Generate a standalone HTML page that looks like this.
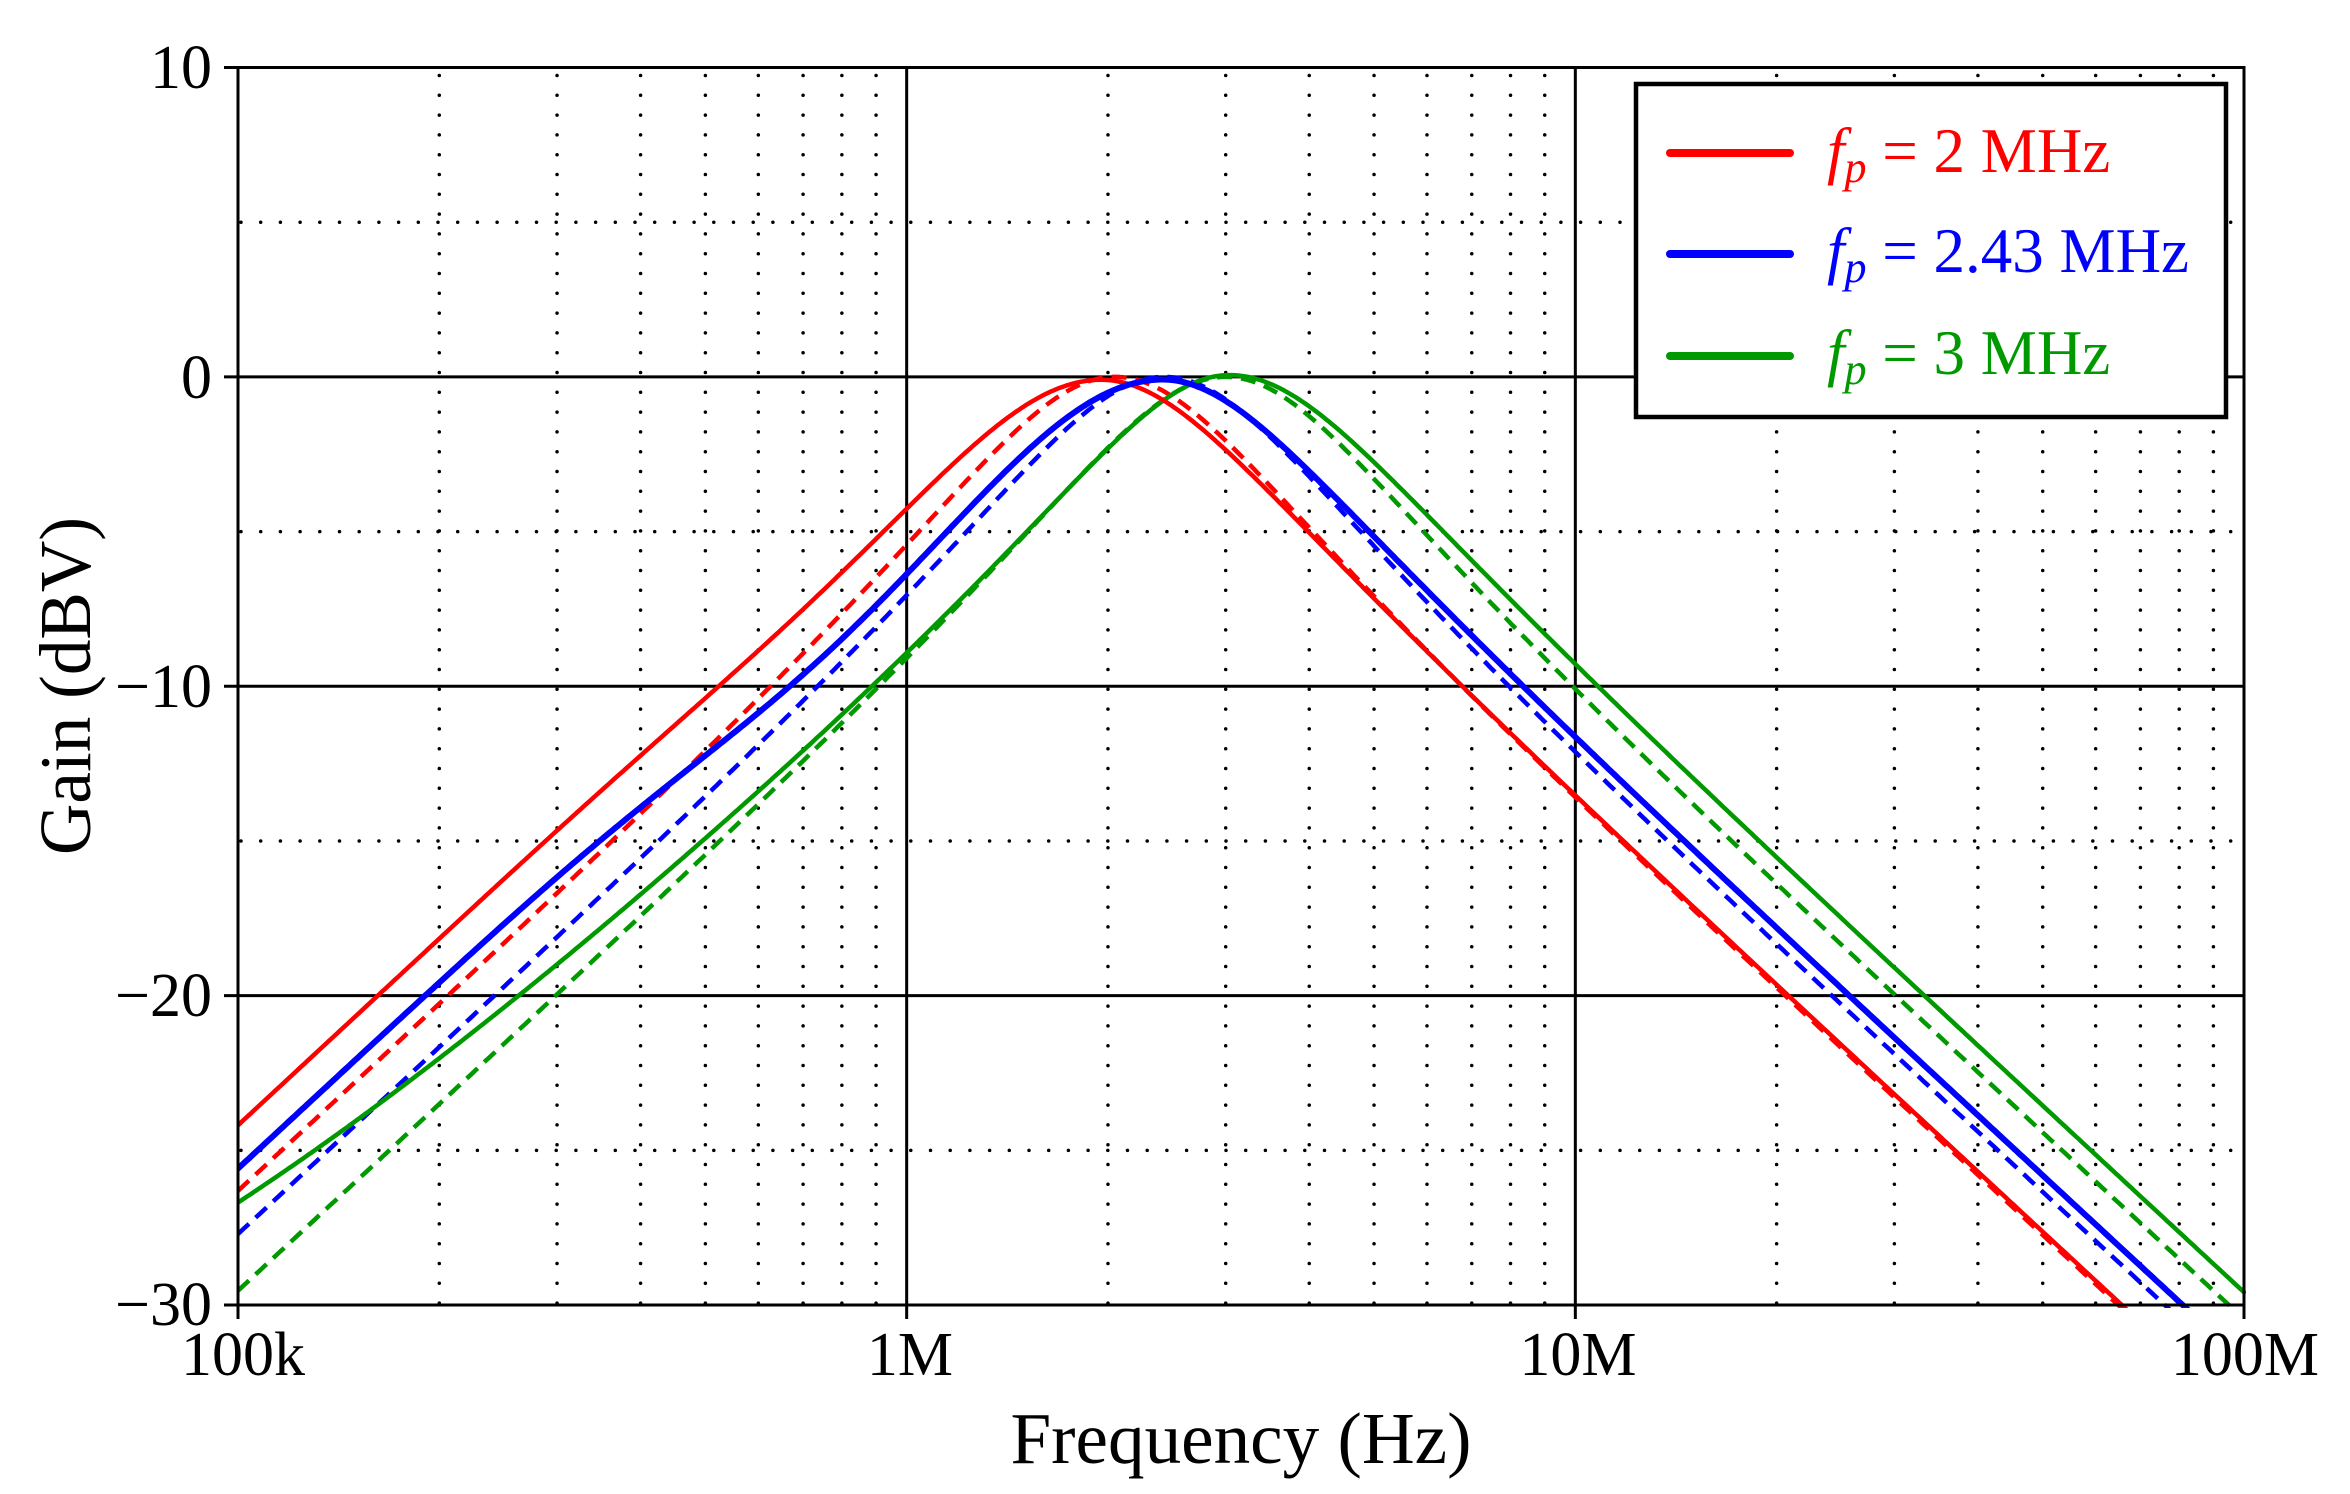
<!DOCTYPE html>
<html><head><meta charset="utf-8">
<style>html,body{margin:0;padding:0;background:#fff;}svg{display:block;}</style>
</head><body>
<svg id="s" width="2350" height="1494" viewBox="0 0 2350 1494" xmlns="http://www.w3.org/2000/svg" font-family="'Liberation Serif', serif">
<defs><clipPath id="cp"><rect x="238" y="60" width="2008" height="1248"/></clipPath></defs>
<rect width="2350" height="1494" fill="#fff"/>
<g id="grid"></g>
<g id="curves" clip-path="url(#cp)"></g>
<g id="frame"></g>
<g font-size="62" fill="#000">
<text x="212" y="88" text-anchor="end">10</text>
<text x="212" y="398" text-anchor="end">0</text>
<text x="212" y="707" text-anchor="end">−10</text>
<text x="212" y="1016" text-anchor="end">−20</text>
<text x="212" y="1325" text-anchor="end">−30</text>
<text x="243" y="1375" text-anchor="middle">100k</text>
<text x="910" y="1375" text-anchor="middle">1M</text>
<text x="1578" y="1375" text-anchor="middle">10M</text>
<text x="2245" y="1375" text-anchor="middle">100M</text>
</g>
<text x="1241" y="1463" font-size="73" text-anchor="middle" textLength="461" lengthAdjust="spacingAndGlyphs">Frequency (Hz)</text>
<text transform="translate(90,686) rotate(-90)" font-size="73" text-anchor="middle" textLength="338" lengthAdjust="spacingAndGlyphs">Gain (dBV)</text>
<g>
<rect x="1636" y="84" width="590" height="333" fill="#fff" stroke="#000" stroke-width="4.5"/>
<line x1="1670" y1="153" x2="1790" y2="153" stroke="#ff0000" stroke-width="8" stroke-linecap="round"/>
<line x1="1670" y1="254" x2="1790" y2="254" stroke="#0000ff" stroke-width="8" stroke-linecap="round"/>
<line x1="1670" y1="356" x2="1790" y2="356" stroke="#009900" stroke-width="8" stroke-linecap="round"/>
<text x="1827" y="172" font-size="63" fill="#ff0000"><tspan font-style="italic">f</tspan><tspan font-style="italic" font-size="44" dy="10">p</tspan><tspan dy="-10"> = 2 MHz</tspan></text>
<text x="1827" y="272" font-size="63" fill="#0000ff"><tspan font-style="italic">f</tspan><tspan font-style="italic" font-size="44" dy="10">p</tspan><tspan dy="-10"> = 2.43 MHz</tspan></text>
<text x="1827" y="374" font-size="63" fill="#009900"><tspan font-style="italic">f</tspan><tspan font-style="italic" font-size="44" dy="10">p</tspan><tspan dy="-10"> = 3 MHz</tspan></text>
</g>
</svg>
<script>
(function(){
var NS="http://www.w3.org/2000/svg";
var L=238,R=2244,T=67.5,B=1305,D=(R-L)/3,DB=(B-T)/40;
function X(d){return L+d*D;}function Y(v){return T+(10-v)*DB;}
function el(p,n,a){var e=document.createElementNS(NS,n);for(var k in a)e.setAttribute(k,a[k]);p.appendChild(e);return e;}
var g=document.getElementById('grid');
for(var dec=0;dec<3;dec++)for(var m=2;m<=9;m++){var x=X(dec+Math.log10(m));
el(g,'line',{x1:x,y1:T+8,x2:x,y2:B,stroke:'#000','stroke-width':3.5,'stroke-dasharray':'0 19.8','stroke-linecap':'round'});}
[5,-5,-15,-25].forEach(function(v){var y=Y(v);el(g,'line',{x1:L+3,y1:y,x2:R,y2:y,stroke:'#000','stroke-width':3.5,'stroke-dasharray':'0 19.7','stroke-linecap':'round'});});
var f=document.getElementById('frame');
[0,-10,-20].forEach(function(v){var y=Y(v);el(g,'line',{x1:L-14,y1:y,x2:R,y2:y,stroke:'#000','stroke-width':3});});
[1,2].forEach(function(d){var x=X(d);el(g,'line',{x1:x,y1:T,x2:x,y2:B+14,stroke:'#000','stroke-width':3});});
el(f,'rect',{x:L,y:T,width:R-L,height:B-T,fill:'none',stroke:'#000','stroke-width':3});
[10,-30].forEach(function(v){var y=Y(v);el(f,'line',{x1:L-14,y1:y,x2:L,y2:y,stroke:'#000','stroke-width':3});});
[0,3].forEach(function(d){var x=X(d);el(f,'line',{x1:x,y1:B,x2:x,y2:B+14,stroke:'#000','stroke-width':3});});
function gain(d,p){var x=Math.pow(10,d)*1e5/p.fc;var Q=x<1?p.Ql:p.Qh;
var u=Q*Math.abs(x-1/x);var a=1/Math.sqrt(1+u*u);
if(p.fl)a+=p.fl/(1+x*x*x*x);var v=20*Math.log10(a);
if(p.c){var z=(d-0.9)/0.3;v-=p.c*Math.exp(-z*z);}
return v;}
function path(p){var d='';var first=true;
for(var t=0;t<=3.0001;t+=0.004){var v=gain(t,p);var y=Y(v);d+=(first?'M':'L')+X(t).toFixed(1)+','+y.toFixed(1);first=false;if(v<-30.5)break;}
return d;}
var P={
RS:{fc:1.93e6,Ql:0.84,c:0.5,Qh:0.93},
RD:{fc:2.05e6,Ql:1.01,Qh:1.0},
BS:{fc:2.38e6,Ql:0.80,c:1.1,Qh:0.93},
BD:{fc:2.43e6,Ql:1.0,Qh:1.01},
GS:{fc:3.05e6,Ql:1.0,fl:0.0135,Qh:0.92},
GD:{fc:3.0e6,Ql:1.0,Qh:1.0}
};
var c=document.getElementById('curves');
var st=[['GD','#009900',4.5,true],['BD','#0000ff',4.5,true],['RD','#ff0000',4.5,true],['GS','#009900',4.5,false],['RS','#ff0000',4.5,false],['BS','#0000ff',6,false]];
st.forEach(function(s){var a={d:path(P[s[0]]),fill:'none',stroke:s[1],'stroke-width':s[2],'stroke-linejoin':'round'};
if(s[3]){a['stroke-dasharray']='15 9';}else a['stroke-linecap']='round';el(c,'path',a);});
})();
</script>
</body></html>
